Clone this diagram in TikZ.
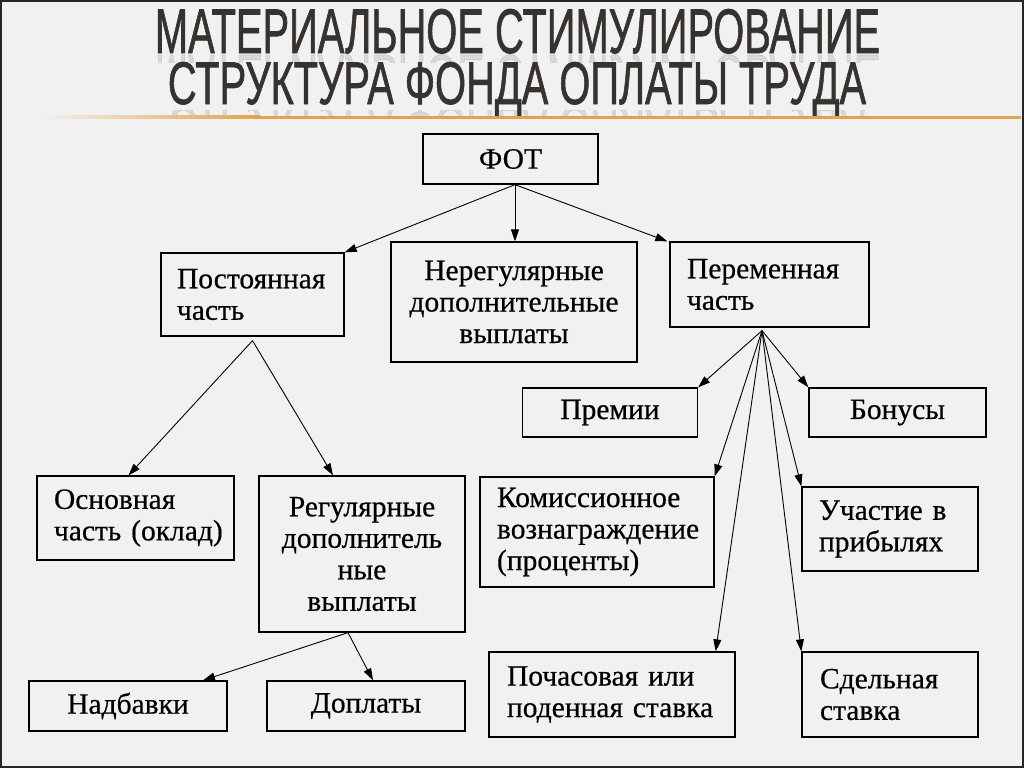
\documentclass[tikz,border=0pt]{standalone}
\usepackage{fontspec}
\setmainfont[FakeBold=0.6]{Liberation Serif}
\newfontfamily\titlefont[FakeBold=1.3]{Liberation Sans}
\newfontfamily\boxfont[FakeBold=0.5]{Liberation Serif}
\usetikzlibrary{arrows.meta,calc}
\definecolor{bgcol}{HTML}{F1F1F1}
\definecolor{titlecol}{HTML}{36322F}
\definecolor{linecol}{HTML}{E2A24A}
\definecolor{framecol}{HTML}{262626}
\begin{document}
\begin{tikzpicture}[x=1pt,y=-1pt,
  box/.style={draw=black, line width=1.3pt, rectangle, inner sep=0pt,
    font=\boxfont\fontsize{29.5}{31.5}\selectfont},
  cbox/.style={box, align=center},
  lbox/.style={box, align=left},
  arr/.style={line width=0.9pt, draw=black, -{Triangle[length=12pt,width=8pt]}},
  ttl/.style={inner sep=0pt, text=titlecol, anchor=base},
  refl/.style={inner sep=0pt, text=titlecol, text opacity=0.12, anchor=base}]
\useasboundingbox (0,0) rectangle (1024,768);
\fill[bgcol] (0,0) rectangle (1024,768);
\draw[framecol, line width=2pt] (1,1) rectangle (1023,767);

% title
\node[ttl] (t1) at (517.5,53) {\resizebox{725pt}{44pt}{\titlefont МАТЕРИАЛЬНОЕ СТИМУЛИРОВАНИЕ}};
\node[ttl] (t2) at (517,104) {\resizebox{698pt}{42pt}{\titlefont СТРУКТУРА ФОНДА ОПЛАТЫ ТРУДА}};
\begin{scope}
  \clip (0,55) rectangle (1024,62);
  \node[refl] (r1) at (517.5,55) {\scalebox{1}[-1]{\resizebox{725pt}{44pt}{\titlefont МАТЕРИАЛЬНОЕ СТИМУЛИРОВАНИЕ}}};
\end{scope}
\begin{scope}
  \clip (0,110) rectangle (1024,115);
  \node[refl] (r2) at (517,106) {\scalebox{1}[-1]{\resizebox{698pt}{42pt}{\titlefont СТРУКТУРА ФОНДА ОПЛАТЫ ТРУДА}}};
\end{scope}
\shade[left color=bgcol, right color=linecol] (40,115.5) rectangle (260,118.5);
\fill[linecol] (260,115.5) rectangle (1021,118.5);

% boxes
\node[cbox, minimum width=175pt, minimum height=50pt, text width=170pt] (fot) at (510.5,159) {ФОТ};
\node[lbox, minimum width=183pt, minimum height=83pt, text width=151pt] (post) at (252.5,294.5) {Постоянная\\часть};
\node[cbox, minimum width=246pt, minimum height=120pt, text width=240pt] (nereg) at (514,302) {Нерегулярные\\дополнительные\\выплаты};
\node[lbox, minimum width=199pt, minimum height=85pt, text width=165pt] (perem) at (769.5,284.5) {Переменная\\часть};
\node[cbox, minimum width=175pt, minimum height=49pt, text width=170pt] (prem) at (610,412.5) {Премии};
\node[cbox, minimum width=177pt, minimum height=49pt, text width=172pt] (bonus) at (897.5,412.5) {Бонусы};
\node[lbox, minimum width=197pt, minimum height=84pt, text width=163pt] (osn) at (135.5,518) {Основная\\часть~(оклад)};
\node[cbox, minimum width=206pt, minimum height=156pt, text width=200pt] (reg) at (362,554) {Регулярные\\дополнитель\\ные\\выплаты};
\node[lbox, minimum width=234pt, minimum height=110pt, text width=200pt] (kom) at (597,532) {Комиссионное\\вознаграждение\\(проценты)};
\node[lbox, minimum width=176pt, minimum height=84pt, text width=142pt] (uch) at (890,529) {Участие~в\\прибылях};
\node[cbox, minimum width=198pt, minimum height=50pt, text width=192pt] (nadb) at (128,706) {Надбавки};
\node[cbox, minimum width=198pt, minimum height=50pt, text width=192pt] (dopl) at (366,706) {Доплаты};
\node[lbox, minimum width=246pt, minimum height=85pt, text width=210pt] (poch) at (612,694.5) {Почасовая~или\\поденная~ставка};
\node[lbox, minimum width=176pt, minimum height=85pt, text width=140pt] (sdel) at (890,694.5) {Сдельная\\ставка};

% connectors
\draw[arr] ([xshift=4.5pt]fot.south) -- (post.north east);
\draw[arr] ([xshift=4.5pt]fot.south) -- ([xshift=1pt]nereg.north);
\draw[arr] ([xshift=4.5pt]fot.south) -- ([xshift=-2pt]perem.north west);

\draw[arr] ([yshift=-4pt]post.south) -- ([xshift=-7pt]osn.north);
\draw[arr] ([yshift=-4pt]post.south) -- ([xshift=-29pt]reg.north);

\draw[arr] ([xshift=-14pt]reg.south) -- ([xshift=75pt]nadb.north);
\draw[arr] ([xshift=-14pt]reg.south) -- ([xshift=7pt]dopl.north);

\draw[arr] ([xshift=-7.5pt,yshift=-3pt]perem.south) -- (prem.north east);
\draw[arr] ([xshift=-7.5pt,yshift=-3pt]perem.south) -- (bonus.north west);
\draw[arr] ([xshift=-7.5pt,yshift=-3pt]perem.south) -- (kom.north east);
\draw[arr] ([xshift=-7.5pt,yshift=-3pt]perem.south) -- (uch.north west);
\draw[arr] ([xshift=-7.5pt,yshift=-3pt]perem.south) -- ([xshift=-20pt]poch.north east);
\draw[arr] ([xshift=-7.5pt,yshift=-3pt]perem.south) -- (sdel.north west);
\end{tikzpicture}
\end{document}
